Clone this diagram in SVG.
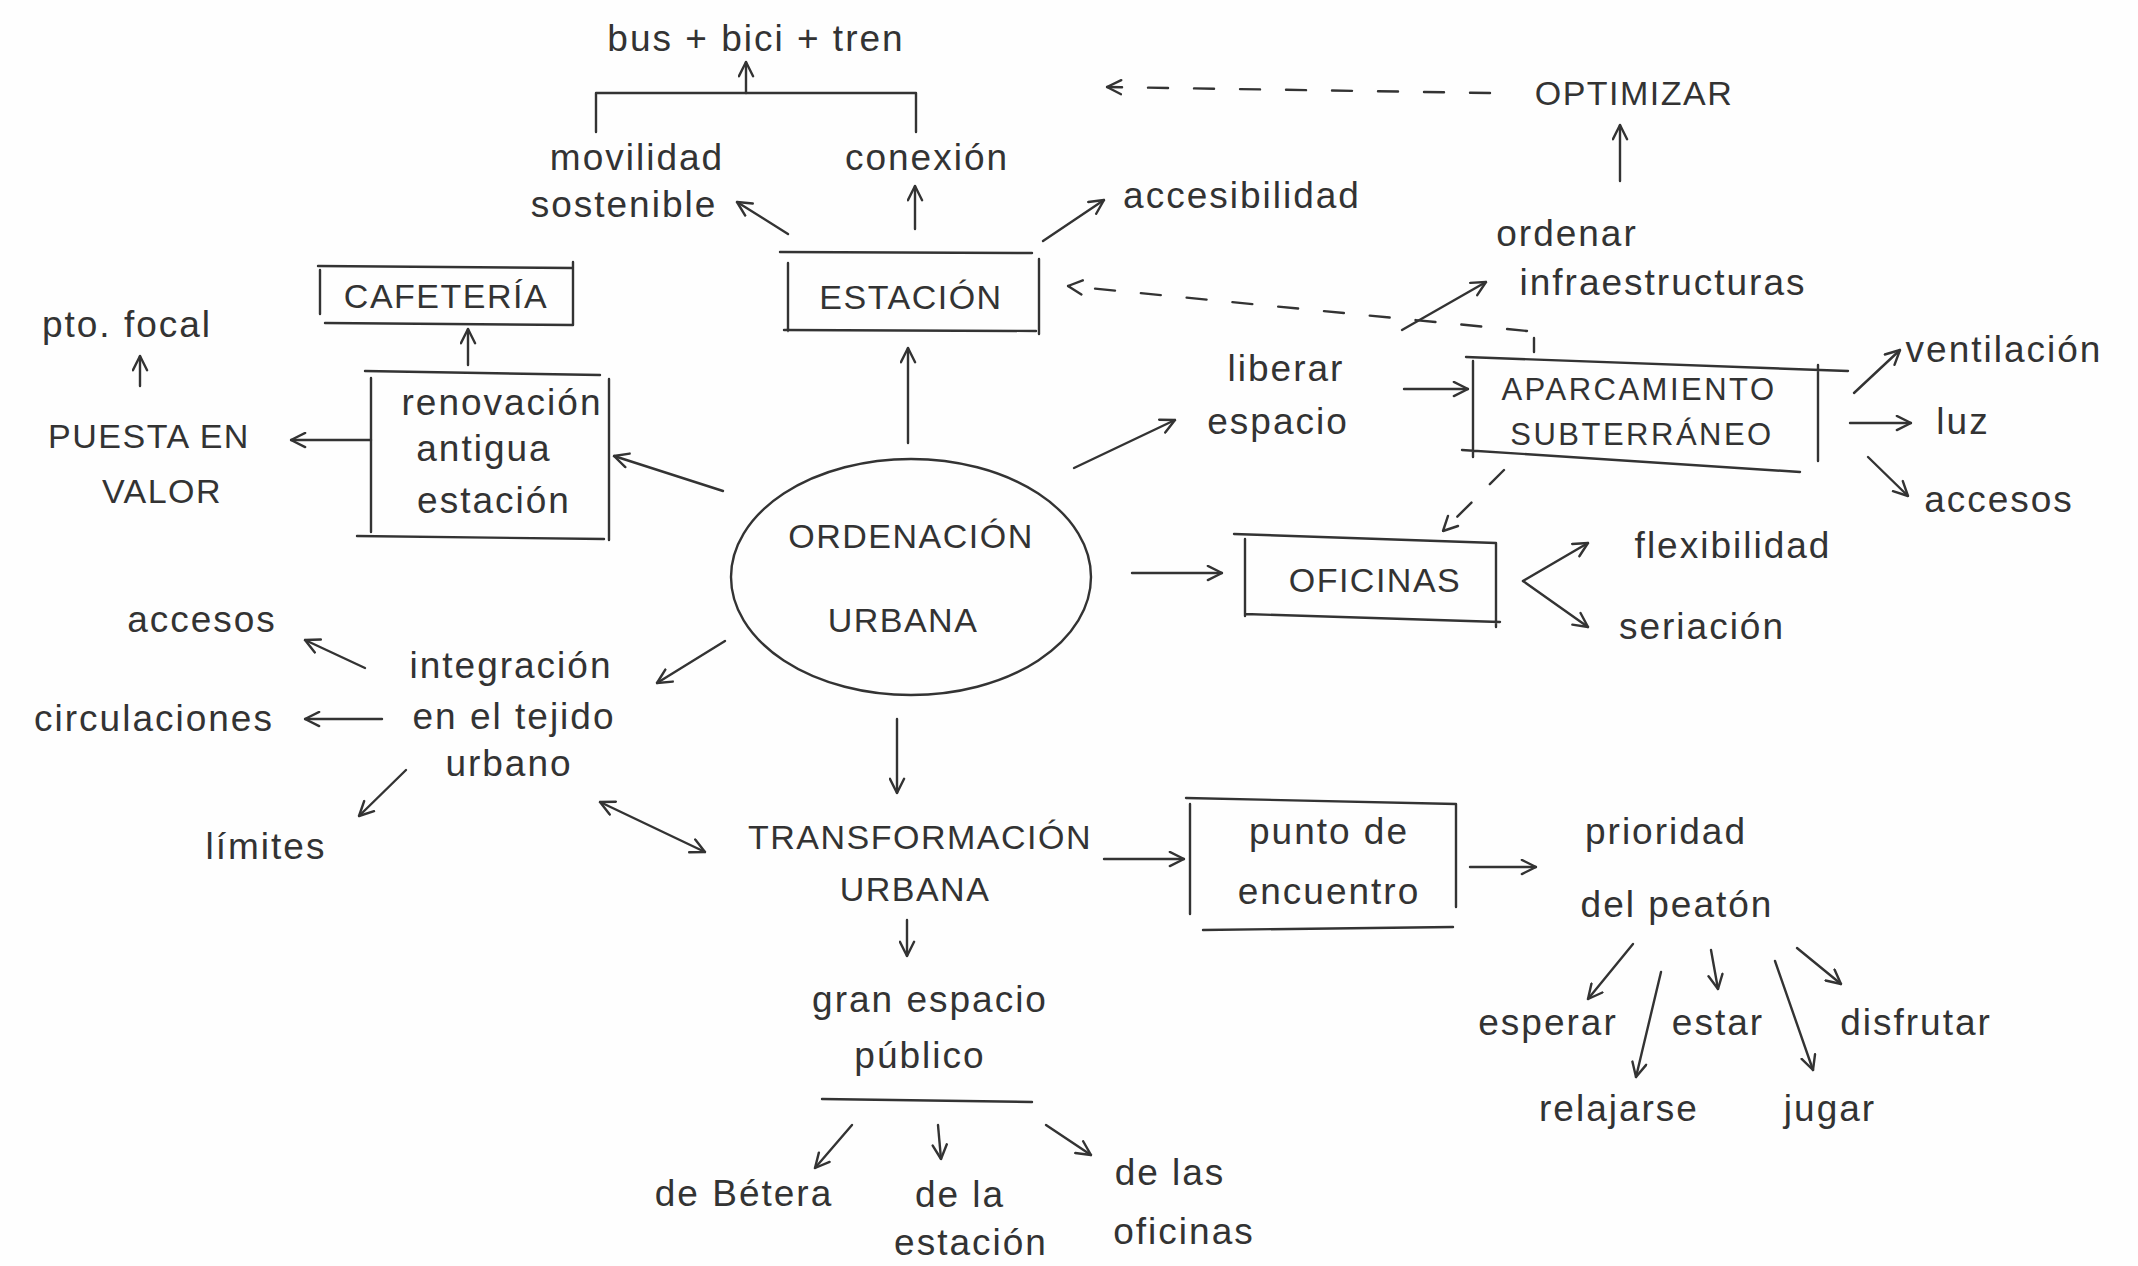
<svg xmlns="http://www.w3.org/2000/svg" width="2138" height="1266" viewBox="0 0 2138 1266">
<defs>
<marker id="ah" viewBox="0 0 12 12" refX="11" refY="6" markerWidth="17" markerHeight="17" markerUnits="userSpaceOnUse" orient="auto-start-reverse">
<path d="M1,1 L11,6 L1,11" fill="none" stroke="#333" stroke-width="1.7" stroke-dasharray="none" stroke-linecap="round" stroke-linejoin="round"/>
</marker>
<style>
.t{font-family:"Liberation Sans",Arial,sans-serif;font-size:37px;letter-spacing:2px;fill:#333;text-anchor:middle}
.c{font-family:"Liberation Sans",Arial,sans-serif;font-size:34px;letter-spacing:1.5px;fill:#333;text-anchor:middle}
.cs{font-size:31px;letter-spacing:2.5px}
.l{fill:none;stroke:#333;stroke-width:2.4;stroke-linecap:round;stroke-linejoin:round}
.a{marker-end:url(#ah)}
.d{stroke-dasharray:20 26}
</style>
</defs>
<rect width="2138" height="1266" fill="#fefefe"/>

<g id="connectors">
<path class="l" d="M596,132 V93 H916 V132"/>
<path class="l a" d="M746,93 V62"/>
<path class="l a" d="M788,234 L737,202"/>
<path class="l a" d="M915,229 V186"/>
<path class="l a" d="M1043,241 L1104,200"/>
<path class="l a" d="M468,365 V329"/>
<path class="l a" d="M371,440 H291"/>
<path class="l a" d="M140,386 V356"/>
<path class="l a" d="M723,491 L614,456"/>
<path class="l a" d="M908,443 V348"/>
<path class="l a" d="M1074,468 L1175,420"/>
<path class="l a" d="M1404,389 H1468"/>
<path class="l a" d="M1402,330 L1486,282"/>
<path class="l a" d="M1620,181 V125"/>
<path class="l a d" d="M1490,93 L1107,87"/>
<path class="l" d="M1534,352 V338"/>
<path class="l a d" d="M1527,331 L1068,286"/>
<path class="l a" d="M1854,393 L1900,350"/>
<path class="l a" d="M1850,423 H1911"/>
<path class="l a" d="M1868,457 L1908,496"/>
<path class="l a d" d="M1504,470 L1443,531"/>
<path class="l a" d="M1132,573 H1222"/>
<path class="l a" d="M1523,581 L1588,543"/>
<path class="l a" d="M1523,581 L1588,627"/>
<path class="l a" d="M725,641 L657,683"/>
<path class="l a" d="M365,668 L305,640"/>
<path class="l a" d="M382,719 H305"/>
<path class="l a" d="M406,770 L359,816"/>
<path class="l a" d="M600,802 L705,852" marker-start="url(#ah)"/>
<path class="l a" d="M897,719 V793"/>
<path class="l a" d="M1104,859 H1184"/>
<path class="l a" d="M1470,867 H1536"/>
<path class="l a" d="M1633,944 L1588,999"/>
<path class="l a" d="M1661,972 L1636,1077"/>
<path class="l a" d="M1711,950 L1718,989"/>
<path class="l a" d="M1775,961 L1813,1070"/>
<path class="l a" d="M1797,948 L1841,984"/>
<path class="l a" d="M907,920 V956"/>
<path class="l" d="M822,1099 L1032,1102"/>
<path class="l a" d="M852,1125 L815,1168"/>
<path class="l a" d="M938,1125 L941,1159"/>
<path class="l a" d="M1046,1125 L1091,1155"/>
</g>

<g id="n-bus"><text class="t" x="756" y="51">bus + bici + tren</text></g>
<g id="n-movilidad"><text class="t" x="637" y="170">movilidad</text><text class="t" x="624" y="217">sostenible</text></g>
<g id="n-conexion"><text class="t" x="927" y="170">conexión</text></g>
<g id="n-accesibilidad"><text class="t" x="1242" y="208">accesibilidad</text></g>
<g id="n-optimizar"><text class="c" x="1634" y="105">OPTIMIZAR</text></g>

<g id="n-estacion">
<path class="l" d="M780,252 L1032,253 M784,330 L1036,331 M788,263 V331 M1039,259 V334"/>
<text class="c" x="911" y="309">ESTACIÓN</text>
</g>
<g id="n-cafeteria">
<path class="l" d="M318,266 L573,268 M325,323 L573,325 M320,270 V314 M573,262 V325"/>
<text class="c" x="446" y="308">CAFETERÍA</text>
</g>
<g id="n-renovacion">
<path class="l" d="M365,371 L600,375 M357,536 L604,539 M371,378 V532 M609,379 V540"/>
<text class="t" x="502" y="415">renovación</text>
<text class="t" x="484" y="461">antigua</text>
<text class="t" x="494" y="513">estación</text>
</g>
<g id="n-puesta"><text class="c" x="149" y="448">PUESTA EN</text><text class="c" x="162" y="503">VALOR</text></g>
<g id="n-focal"><text class="t" x="127" y="337">pto. focal</text></g>

<g id="n-ordenacion">
<ellipse class="l" cx="911" cy="577" rx="180" ry="118"/>
<text class="c" x="911" y="548">ORDENACIÓN</text>
<text class="c" x="903" y="632">URBANA</text>
</g>

<g id="n-liberar"><text class="t" x="1286" y="381">liberar</text><text class="t" x="1278" y="434">espacio</text></g>
<g id="n-ordenar"><text class="t" x="1567" y="246">ordenar</text><text class="t" x="1663" y="295">infraestructuras</text></g>
<g id="n-aparcamiento">
<path class="l" d="M1466,357 L1848,371 M1462,450 L1800,472 M1473,361 V457 M1818,365 V461"/>
<text class="c cs" x="1639" y="400">APARCAMIENTO</text>
<text class="c cs" x="1642" y="445">SUBTERRÁNEO</text>
</g>
<g id="n-ventilacion"><text class="t" x="2004" y="362">ventilación</text></g>
<g id="n-luz"><text class="t" x="1963" y="434">luz</text></g>
<g id="n-accesos-r"><text class="t" x="1999" y="512">accesos</text></g>
<g id="n-oficinas">
<path class="l" d="M1234,534 L1496,543 M1245,614 L1500,622 M1245,539 V616 M1496,543 V627"/>
<text class="c" x="1375" y="592">OFICINAS</text>
</g>
<g id="n-flexibilidad"><text class="t" x="1733" y="558">flexibilidad</text></g>
<g id="n-seriacion"><text class="t" x="1702" y="639">seriación</text></g>

<g id="n-integracion"><text class="t" x="511" y="678">integración</text><text class="t" x="514" y="729">en el tejido</text><text class="t" x="509" y="776">urbano</text></g>
<g id="n-accesos-l"><text class="t" x="202" y="632">accesos</text></g>
<g id="n-circulaciones"><text class="t" x="154" y="731">circulaciones</text></g>
<g id="n-limites"><text class="t" x="266" y="859">límites</text></g>

<g id="n-transformacion"><text class="c" x="920" y="849">TRANSFORMACIÓN</text><text class="c" x="915" y="901">URBANA</text></g>
<g id="n-punto">
<path class="l" d="M1186,798 L1456,804 M1203,930 L1453,927 M1190,804 V914 M1456,804 V907"/>
<text class="t" x="1329" y="844">punto de</text>
<text class="t" x="1329" y="904">encuentro</text>
</g>
<g id="n-prioridad"><text class="t" x="1666" y="844">prioridad</text><text class="t" x="1677" y="917">del peatón</text></g>
<g id="n-esperar"><text class="t" x="1548" y="1035">esperar</text></g>
<g id="n-estar"><text class="t" x="1718" y="1035">estar</text></g>
<g id="n-disfrutar"><text class="t" x="1916" y="1035">disfrutar</text></g>
<g id="n-relajarse"><text class="t" x="1619" y="1121">relajarse</text></g>
<g id="n-jugar"><text class="t" x="1830" y="1121">jugar</text></g>

<g id="n-gran"><text class="t" x="930" y="1012">gran espacio</text><text class="t" x="920" y="1068">público</text></g>
<g id="n-betera"><text class="t" x="744" y="1206">de Bétera</text></g>
<g id="n-dela"><text class="t" x="960" y="1207">de la</text><text class="t" x="971" y="1255">estación</text></g>
<g id="n-delas"><text class="t" x="1170" y="1185">de las</text><text class="t" x="1184" y="1244">oficinas</text></g>
</svg>
